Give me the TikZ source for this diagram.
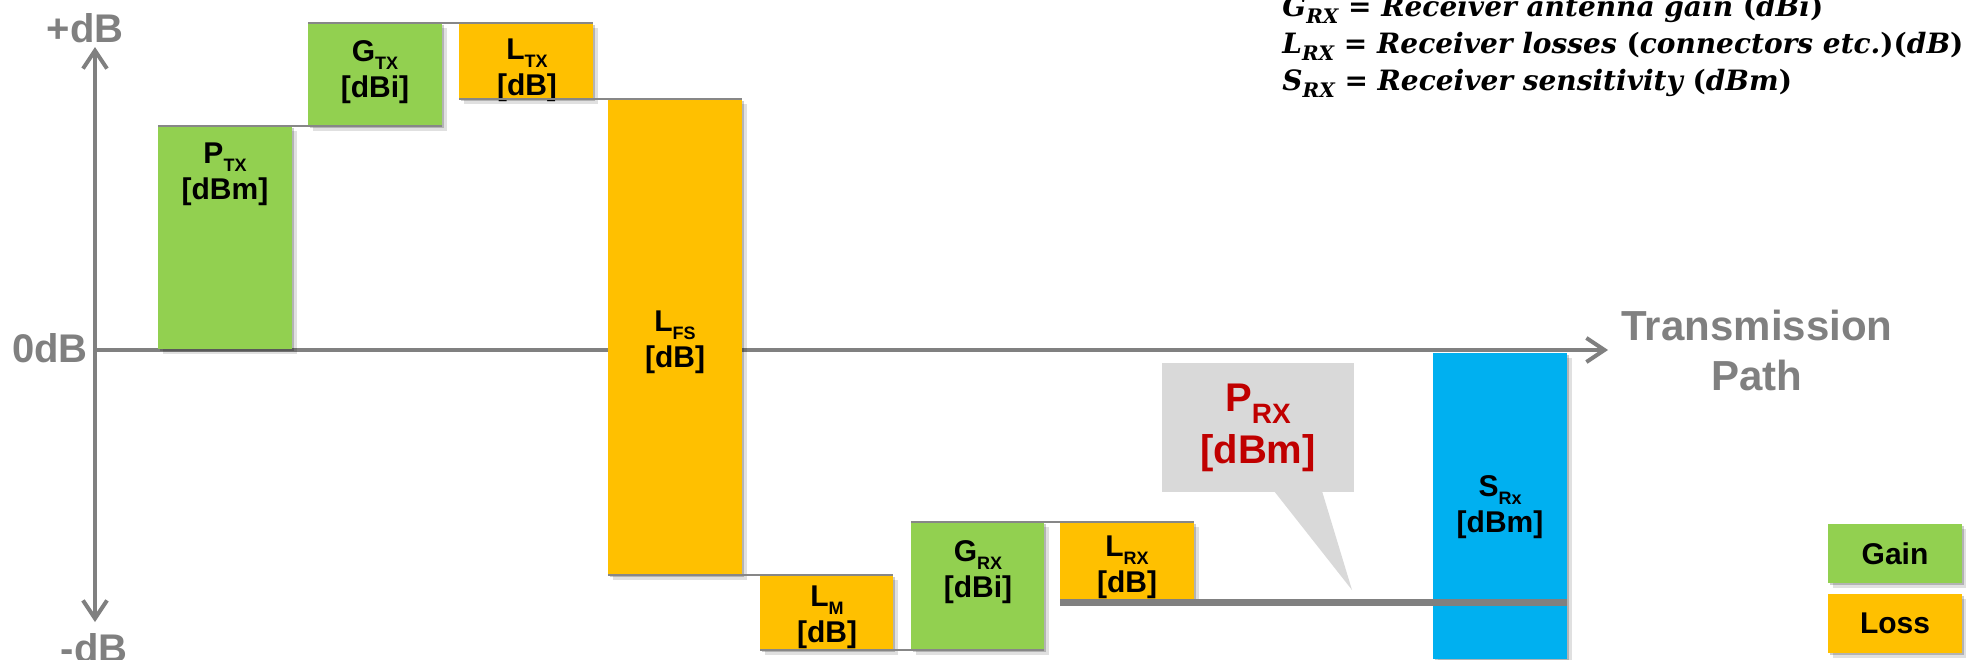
\documentclass[tikz,border=0pt]{standalone}
\usepackage[no-math]{fontspec}
\setmainfont{Liberation Sans}
\newfontfamily\formfont{DejaVu Serif}
\usetikzlibrary{arrows.meta,shadows}
\definecolor{gaingreen}{HTML}{92D050}
\definecolor{lossorange}{HTML}{FFC000}
\definecolor{sensblue}{HTML}{00B0F0}
\definecolor{axisgray}{HTML}{808080}
\definecolor{levelgray}{HTML}{878787}
\definecolor{calloutgray}{HTML}{D9D9D9}
\definecolor{prxred}{HTML}{C00000}
\newcommand\mysub[1]{\raisebox{-4pt}{\fontsize{9}{9}\selectfont #1}}
\newcommand\mybigsub[1]{\raisebox{-6pt}{\fontsize{14}{14}\selectfont #1}}
\newcommand\myfsub[1]{\raisebox{-3.5pt}{\fontsize{10}{10}\selectfont\itshape #1}}
\newcommand\myup[1]{{\upshape #1}}
\tikzset{
  boxshadow/.style={
    drop shadow={shadow xshift=1.2pt,shadow yshift=-1.2pt,opacity=0.2,fill=black},
    drop shadow={shadow xshift=2.6pt,shadow yshift=-2.6pt,opacity=0.12,fill=black}},
  box/.style={rectangle, inner sep=0pt, outer sep=0pt, draw=none},
  gainbox/.style={box, fill=gaingreen, boxshadow},
  lossbox/.style={box, fill=lossorange, boxshadow},
  sensbox/.style={box, fill=sensblue, boxshadow},
  boxlabel/.style={align=center, font=\fontsize{15}{18}\selectfont\bfseries, text=black, inner sep=0pt},
  axislabel/.style={font=\fontsize{20}{24}\selectfont\bfseries, text=axisgray, inner sep=0pt},
  axisline/.style={draw=axisgray, line width=2pt},
  barb/.tip={Straight Barb[length=9pt,width=12pt]},
  level/.style={draw=levelgray, line width=1pt},
  formulatext/.style={anchor=base west, inner sep=0pt, font=\formfont\fontsize{14}{17}\selectfont\bfseries\itshape}
}
\begin{document}
\begin{tikzpicture}[x=0.5pt,y=-0.5pt]
\useasboundingbox (0,0) rectangle (1966,659);
\clip (0,0) rectangle (1966,659);

% axes
\coordinate (origin) at (95,350);
\coordinate (ytop) at (95,47);
\coordinate (ybot) at (95,622);
\coordinate (xend) at (1608,350);
\draw[axisline, barb-barb] (ybot) -- (ytop);
\draw[axisline, -barb] (origin) -- (xend);

\node[axislabel] (plusdb) at (85,28) {+dB};
\node[axislabel] (zerodb) at (50,348) {0dB};
\node[axislabel] (minusdb) at (94,648) {-dB};
\node[align=center, font=\fontsize{21}{25}\selectfont\bfseries, text=axisgray, inner sep=0pt] (tpath) at (1757,350) {Transmission\\Path};

% boxes
\node[gainbox, minimum width=67pt, minimum height=111.5pt] (ptx) at (225,237.5) {};
\node[gainbox, minimum width=67pt, minimum height=51.5pt] (gtx) at (375,74.5) {};
\node[lossbox, minimum width=67pt, minimum height=38pt] (ltx) at (526,61) {};
\node[lossbox, minimum width=67pt, minimum height=238pt] (lfs) at (675,337) {};
\node[lossbox, minimum width=66.5pt, minimum height=37.5pt] (lm) at (826.5,612.5) {};
\node[gainbox, minimum width=66.5pt, minimum height=64pt] (grx) at (977.5,586) {};
\node[lossbox, minimum width=67pt, minimum height=38.5pt] (lrx) at (1127,560.5) {};
\node[sensbox, minimum width=67pt, minimum height=153pt] (srx) at (1500,506) {};

% box labels
\node[boxlabel] (ptxl) at (225,174) {P\mysub{TX}\\{[dBm]}};
\node[boxlabel] (gtxl) at (375,72) {G\mysub{TX}\\{[dBi]}};
\node[boxlabel] (ltxl) at (527,70) {L\mysub{TX}\\{[dB]}};
\node[boxlabel] (lfsl) at (675,342) {L\mysub{FS}\\{[dB]}};
\node[boxlabel] (lml) at (827,617) {L\mysub{M}\\{[dB]}};
\node[boxlabel] (grxl) at (978,572) {G\mysub{RX}\\{[dBi]}};
\node[boxlabel] (lrxl) at (1127,567) {L\mysub{RX}\\{[dB]}};
\node[boxlabel] (srxl) at (1500,507) {S\mysub{Rx}\\{[dBm]}};

% level lines
\draw[level] (ptx.north west) -- (gtx.south east);
\draw[level] (gtx.north west) -- (ltx.north east);
\draw[level] (ltx.south west) -- (lfs.north east);
\draw[level] (lfs.south west) -- (lm.north east);
\draw[level] (lm.south west) -- (grx.south east);
\draw[level] (grx.north west) -- (lrx.north east);
\coordinate (prxend) at (1567,602);
\draw[draw=axisgray, line width=3.5pt] ([yshift=-1.5pt]lrx.south west) -- (prxend);

% callout
\node[box, fill=calloutgray, minimum width=96pt, minimum height=64.5pt,
      align=center, font=\fontsize{20}{26}\selectfont\bfseries, text=prxred] (prx) at (1258,427.5)
      {P\mybigsub{RX}\\{[dBm]}};
\coordinate (prxtip) at (1352,590);
\fill[calloutgray] ([xshift=8pt,yshift=0.5pt]prx.south) -- (prxtip) -- ([xshift=32pt,yshift=0.5pt]prx.south) -- cycle;

% legend
\node[gainbox, minimum width=67pt, minimum height=29.5pt, font=\fontsize{15}{18}\selectfont\bfseries] (gain) at (1895,553.5) {Gain};
\node[lossbox, minimum width=67pt, minimum height=29.5pt, font=\fontsize{15}{18}\selectfont\bfseries] (loss) at (1895,623.5) {Loss};

% formulas
\node[formulatext] (fgrx) at (1282,16) {G\myfsub{RX} \myup{=} Receiver antenna gain \myup{(}dBi\myup{)}};
\node[formulatext] (flrx) at (1282,53) {L\myfsub{RX} \myup{=} Receiver losses \myup{(}connectors etc.\myup{)(}dB\myup{)}};
\node[formulatext] (fsrx) at (1282,90) {S\myfsub{RX} \myup{=} Receiver sensitivity \myup{(}dBm\myup{)}};
\end{tikzpicture}
\end{document}
